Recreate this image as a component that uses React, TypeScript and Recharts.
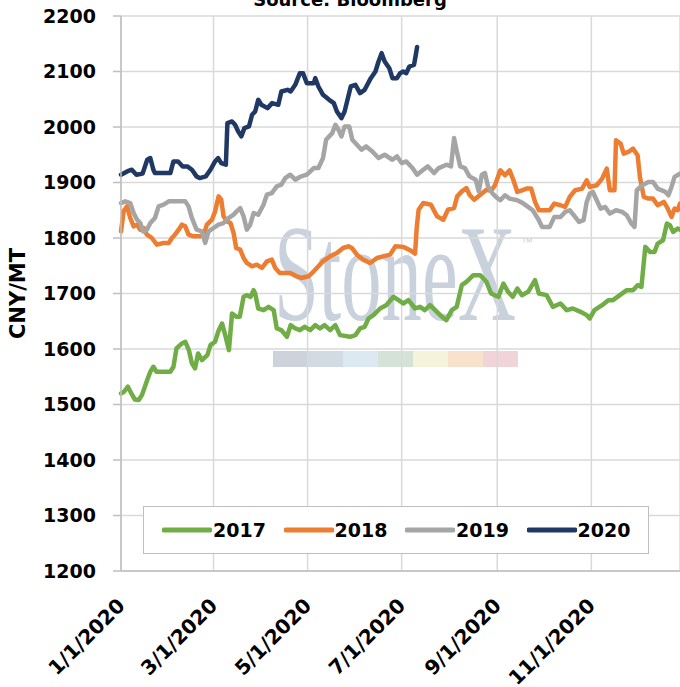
import { LineChart, Line, XAxis, YAxis, CartesianGrid, Legend } from "recharts";

// day of year (0 = 1/1) and CNY/MT
const s2017: [number, number][] = [
  [0, 1520], [2, 1523], [4.5, 1532], [6.7, 1520], [9, 1509], [11.5, 1508], [13.6, 1517], [17, 1544],
  [19, 1559], [21, 1568], [23, 1559], [25.5, 1559], [32, 1559], [34, 1568], [36, 1601], [39.5, 1610],
  [41.7, 1613], [44, 1598], [46, 1574], [48, 1565], [50, 1592], [52.5, 1580], [56, 1589], [58, 1607],
  [61, 1613], [63, 1631], [65.5, 1646], [67.6, 1625], [70, 1598], [72, 1664], [75, 1658], [77, 1658],
  [79.5, 1694], [81.6, 1697], [84, 1694], [86, 1706], [87, 1700], [89, 1673], [92.5, 1670], [95.7, 1676],
  [99, 1670], [101, 1637], [104, 1634], [107.6, 1622], [110, 1643], [113, 1637], [116, 1634], [119, 1640],
  [122.7, 1634], [126, 1643], [129, 1637], [132, 1643], [135.6, 1634], [139, 1643], [142, 1625], [148.6, 1622],
  [152, 1625], [155, 1637], [158, 1640], [160.5, 1655], [163.7, 1661], [168, 1673], [172, 1679], [176.7, 1694],
  [180, 1688], [183, 1682], [186.4, 1688], [190.7, 1673], [194, 1676], [197, 1670], [200.4, 1679], [203.7, 1670],
  [207, 1661], [211, 1652], [214.5, 1670], [217.7, 1676], [221, 1715], [224, 1721], [228.5, 1733], [233, 1733],
  [237, 1721], [240, 1700], [244.7, 1694], [248, 1718], [251, 1703], [254, 1694], [257, 1709], [260, 1697],
  [264, 1703], [268.5, 1724], [271, 1700], [276, 1697], [280, 1676], [285, 1682], [289, 1670], [293, 1673],
  [298, 1667], [302, 1661], [304, 1655], [307, 1670], [312, 1679], [316, 1688], [319, 1688], [323.5, 1697],
  [328, 1706], [332, 1706], [335, 1715], [337.5, 1712], [340, 1784], [343, 1775], [346, 1775], [348, 1790],
  [351.5, 1796], [354, 1826], [356, 1823], [358, 1811], [361, 1817], [362.5, 1815],
];

const s2018: [number, number][] = [
  [0, 1812], [1.7, 1848], [3.9, 1857], [6, 1836], [8.2, 1821], [10.4, 1824], [12.5, 1815], [14.7, 1818],
  [16.8, 1806], [20, 1800], [23.3, 1788], [27.6, 1791], [31, 1791], [33, 1800], [35, 1806], [37.4, 1815],
  [39.5, 1824], [41.7, 1821], [43.8, 1806], [47, 1803], [51.4, 1803], [53.6, 1806], [55.7, 1824], [59, 1833],
  [61, 1848], [63.3, 1875], [65, 1869], [66.5, 1839], [68.7, 1830], [71, 1827], [73, 1809], [74.7, 1782],
  [77.3, 1779], [79.5, 1764], [81.6, 1755], [85, 1749], [88, 1752], [91.4, 1746], [94.6, 1758], [97.8, 1761],
  [100, 1746], [103, 1737], [106.5, 1737], [109.7, 1737], [114, 1731], [117, 1728], [121.6, 1731], [125, 1740],
  [128, 1749], [131, 1758], [135.6, 1767], [140, 1773], [144, 1782], [147.5, 1785], [149.7, 1782], [153, 1770],
  [157, 1761], [161.6, 1755], [166, 1764], [170, 1767], [174.5, 1770], [178, 1785], [183, 1784], [187.5, 1778],
  [190.7, 1772], [191.8, 1820], [193, 1851], [196, 1863], [201, 1860], [205, 1839], [209, 1833], [212, 1851],
  [216, 1854], [218, 1875], [221, 1884], [224, 1890], [226, 1878], [229, 1869], [233, 1878], [237, 1887],
  [240, 1885], [242.5, 1895], [246, 1922], [249, 1913], [252, 1922], [254.5, 1904], [257, 1883], [260, 1886],
  [263, 1889], [266, 1889], [268.5, 1865], [271, 1850], [278, 1850], [281, 1862], [285, 1859], [288, 1856],
  [291, 1874], [294.5, 1886], [299, 1889], [302, 1904], [304, 1892], [308.5, 1895], [312, 1907], [315, 1925],
  [317, 1886], [320, 1886], [321, 1976], [324, 1970], [326, 1952], [329, 1955], [332, 1961], [335, 1949],
  [336.5, 1910], [339, 1874], [342, 1871], [345, 1871], [348, 1859], [352, 1865], [354, 1856], [357, 1838],
  [359, 1853], [361, 1850], [362.5, 1862],
];

const s2019: [number, number][] = [
  [0, 1863], [2.8, 1866], [6, 1863], [8.2, 1845], [10.4, 1833], [12.5, 1827], [14.3, 1812], [16.8, 1815],
  [19, 1827], [22, 1836], [24.4, 1857], [27.6, 1860], [31, 1866], [36.3, 1866], [41.7, 1866], [43.8, 1857],
  [46, 1836], [49, 1815], [52.5, 1812], [54.6, 1791], [56.8, 1812], [60, 1818], [63.3, 1824], [66.5, 1827],
  [69.8, 1836], [73, 1842], [75, 1848], [77.3, 1854], [79.5, 1839], [81.6, 1815], [83.8, 1824], [86, 1845],
  [89, 1842], [92.4, 1860], [94.6, 1878], [97.8, 1881], [101, 1893], [104, 1896], [106.5, 1908], [109.7, 1914],
  [113, 1905], [116, 1910], [120.5, 1914], [125, 1926], [128, 1926], [131, 1944], [133, 1977], [137, 1989],
  [139, 2004], [141, 1995], [143, 1983], [145, 2001], [148, 2001], [150, 1977], [153, 1968], [156, 1959],
  [159, 1965], [163, 1956], [167, 1944], [171, 1950], [176, 1941], [179, 1947], [182, 1935], [185, 1938],
  [189, 1926], [192, 1914], [196, 1923], [199, 1929], [203, 1917], [206, 1926], [211, 1932], [214, 1929],
  [216, 1980], [218, 1953], [220, 1929], [223, 1926], [226, 1911], [230, 1905], [232, 1884], [234, 1914],
  [236, 1917], [238, 1893], [241, 1880], [244, 1872], [246, 1868], [249, 1877], [252, 1871], [257, 1868],
  [261, 1862], [264, 1856], [267, 1850], [271, 1832], [273, 1820], [278, 1820], [281, 1838], [285, 1838],
  [288, 1847], [291, 1850], [294.5, 1838], [297, 1829], [300, 1832], [302, 1865], [304, 1880], [306, 1883],
  [308.5, 1868], [311, 1853], [314, 1856], [317, 1844], [321, 1850], [325, 1847], [328, 1841], [331, 1826],
  [333, 1820], [334.5, 1886], [338, 1895], [342, 1901], [345, 1901], [348, 1889], [353, 1883], [355, 1877],
  [357, 1892], [359, 1910], [362.5, 1916],
];

const s2020: [number, number][] = [
  [0, 1914], [4, 1920], [7, 1923], [10, 1914], [14, 1916], [17, 1941], [19, 1944], [21, 1923],
  [22, 1917], [32, 1917], [34, 1938], [37, 1938], [40, 1929], [43, 1929], [46, 1923], [49, 1911],
  [51, 1908], [55, 1911], [58, 1923], [61, 1938], [63, 1944], [65, 1935], [68, 1932], [69, 2007],
  [72, 2010], [74, 2004], [76, 1992], [78, 1983], [80, 1998], [83, 2001], [85, 2022], [87, 2028],
  [89, 2049], [91, 2040], [95, 2034], [98, 2043], [102, 2040], [104, 2064], [108, 2067], [110, 2064],
  [113, 2076], [116, 2097], [118, 2097], [120.5, 2079], [125, 2079], [126, 2088], [128, 2073], [131, 2058],
  [135, 2049], [138, 2043], [140, 2028], [143, 2016], [145, 2028], [149, 2073], [152, 2076], [155, 2061],
  [158, 2067], [162, 2088], [165, 2100], [167, 2118], [169, 2133], [171, 2118], [174, 2106], [176, 2088],
  [179, 2088], [181, 2097], [183, 2100], [185, 2097], [187, 2109], [190, 2112], [191, 2127], [192, 2144],
];

const xTickDays = [0, 60, 121, 182, 244, 305];
const xTickLabels = ["1/1/2020", "3/1/2020", "5/1/2020", "7/1/2020", "9/1/2020", "11/1/2020"];
const yTicks = [1200, 1300, 1400, 1500, 1600, 1700, 1800, 1900, 2000, 2100, 2200];

const series = [
  { name: "2017", color: "#70ad47", data: s2017 },
  { name: "2018", color: "#ed7d31", data: s2018 },
  { name: "2019", color: "#a5a5a5", data: s2019 },
  { name: "2020", color: "#1f3864", data: s2020 },
];

const FONT = "DejaVu Sans";

function DateTick({ x, y, payload }: any) {
  const i = xTickDays.indexOf(payload.value);
  const ax = x + 5;
  const ay = y + 36;
  return (
    <text
      x={ax}
      y={ay}
      transform={`rotate(-45, ${ax}, ${ay})`}
      textAnchor="end"
      fontSize={20}
      fontWeight="bold"
      fontFamily={FONT}
      fill="#000"
    >
      {i >= 0 ? xTickLabels[i] : ""}
    </text>
  );
}

function LegendBox() {
  return (
    <div
      style={{
        width: 506,
        height: 48,
        border: "1.5px solid #bfbfbf",
        background: "#fff",
        boxSizing: "border-box",
        display: "flex",
        alignItems: "center",
        paddingLeft: 18,
        fontFamily: FONT,
      }}
    >
      {series.map((s) => (
        <div key={s.name} style={{ display: "flex", alignItems: "center", width: 123 }}>
          <svg width={50} height={8}>
            <line x1={2} y1={4} x2={48} y2={4} stroke={s.color} strokeWidth={5} strokeLinecap="round" />
          </svg>
          <span style={{ fontSize: 19, fontWeight: "bold", marginLeft: 1, color: "#000" }}>{s.name}</span>
        </div>
      ))}
    </div>
  );
}

// faint logo behind the plot
function Watermark() {
  const bars = ["#cdd3dc", "#d2dae4", "#dce8f2", "#d5e2d8", "#f5f3d9", "#f8e2cc", "#f1d4da"];
  return (
    <svg width={680} height={687} style={{ position: "absolute", left: 0, top: 0 }}>
      <text x={350} y={6} textAnchor="middle" fontFamily={FONT} fontWeight="bold" fontSize={18} fill="#000">
        Source: Bloomberg
      </text>
      <text
        x={274}
        y={320}
        fontFamily="Liberation Serif"
        fontSize={138}
        fill="#c9d1dc"
        textLength={242}
        lengthAdjust="spacingAndGlyphs"
      >
        StoneX
      </text>
      <text x={521} y={246} fontFamily="Liberation Sans" fontSize={12} fill="#c9d1dc">
        ™
      </text>
      {bars.map((c, i) => (
        <rect key={i} x={273 + i * 35} y={351} width={35} height={16} fill={c} />
      ))}
    </svg>
  );
}

export default function App() {
  return (
    <div
      style={{
        position: "absolute",
        left: 0,
        top: 0,
        width: 680,
        height: 687,
        overflow: "hidden",
        background: "#fff",
        fontFamily: FONT,
      }}
    >
      <Watermark />
      <LineChart width={680} height={687} margin={{ top: 16, right: 0, left: 0, bottom: 56 }}>
        <CartesianGrid stroke="#d9d9d9" strokeWidth={1.5} />
        <XAxis
          dataKey="d"
          type="number"
          domain={[0, 362.5]}
          ticks={xTickDays}
          interval={0}
          height={60}
          tickSize={0}
          tickMargin={0}
          tickLine={false}
          axisLine={{ stroke: "#bfbfbf", strokeWidth: 1.5 }}
          tick={<DateTick />}
        />
        <YAxis
          type="number"
          domain={[1200, 2200]}
          ticks={yTicks}
          interval={0}
          width={121}
          tickSize={8}
          tickMargin={17}
          axisLine={{ stroke: "#bfbfbf", strokeWidth: 1.5 }}
          tickLine={{ stroke: "#bfbfbf", strokeWidth: 1.5 }}
          tick={{ fontSize: 19, fontWeight: "bold", fill: "#000", fontFamily: FONT }}
          label={{
            value: "CNY/MT",
            angle: -90,
            position: "insideLeft",
            offset: 18,
            style: { textAnchor: "middle", fontSize: 21, fontWeight: "bold", fill: "#000", fontFamily: FONT },
          }}
        />
        <Legend
          layout="horizontal"
          verticalAlign="middle"
          align="center"
          content={<LegendBox />}
          wrapperStyle={{ left: 143, top: 506, width: 506, height: 48 }}
        />
        {series.map((s) => (
          <Line
            key={s.name}
            name={s.name}
            data={s.data.map(([d, v]) => ({ d, v }))}
            dataKey="v"
            type="linear"
            stroke={s.color}
            strokeWidth={4.5}
            strokeLinejoin="round"
            strokeLinecap="round"
            dot={false}
            activeDot={false}
            isAnimationActive={false}
          />
        ))}
      </LineChart>
    </div>
  );
}
